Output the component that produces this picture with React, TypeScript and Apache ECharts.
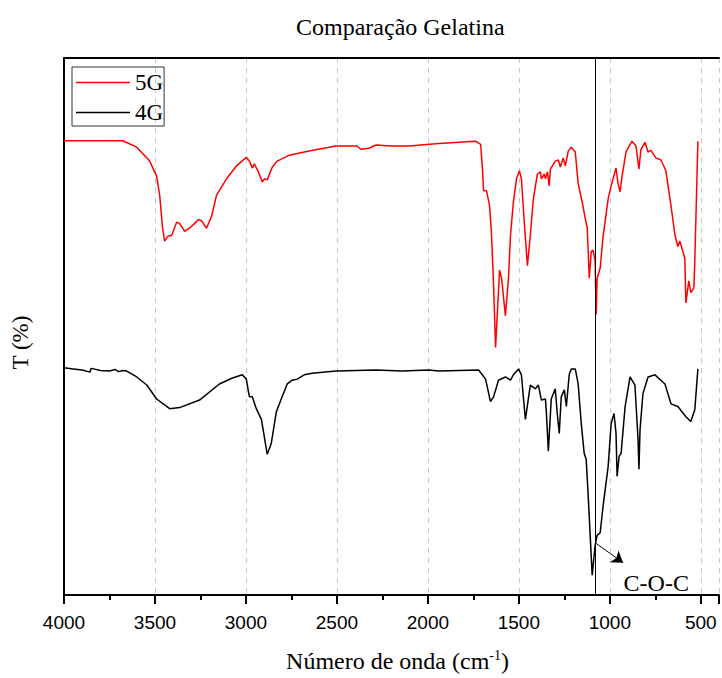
import React, { useEffect, useRef } from "react";
import * as echarts from "echarts";

const TITLE = "Comparação Gelatina";
const X_NAME = "Número de onda (cm{sup|-1})";
const Y_NAME = "T (%)";
const SERIES_NAMES = ["5G", "4G"];
const X_MIN = 400;
const X_MAX = 4000;
const MARK_WAVENUMBER = 1081;
const ARROW_FROM: [number, number] = [1075, 9.6];
const ARROW_TO: [number, number] = [927, 6.0];
const ANNOTATION = "C-O-C";
const ANNOTATION_AT: [number, number] = [745, 2.3];

const gel5G: [number, number][] = [
  [4000, 84.6], [3677, 84.6], [3600, 83.4], [3529, 80.8], [3491, 78.0], [3474, 74.4],
  [3458, 68.3], [3447, 65.9], [3430, 66.8], [3408, 67.0], [3381, 69.4], [3365, 69.2],
  [3337, 67.7], [3310, 68.3], [3282, 69.2], [3261, 69.9], [3244, 69.7], [3217, 68.3],
  [3189, 70.5], [3162, 74.4], [3107, 77.5], [3052, 79.9], [2998, 81.5], [2981, 80.8],
  [2965, 79.5], [2954, 80.3], [2932, 78.8], [2910, 76.9], [2899, 77.5], [2883, 77.3],
  [2855, 79.7], [2828, 80.8], [2762, 81.9], [2653, 82.7], [2505, 83.6], [2390, 83.6],
  [2368, 83.0], [2324, 83.2], [2286, 83.8], [2198, 83.6], [2105, 83.6], [1941, 84.1],
  [1738, 84.5], [1710, 83.9], [1700, 79.3], [1694, 75.3], [1678, 75.3], [1661, 72.5],
  [1650, 67.0], [1639, 57.7], [1628, 46.1], [1606, 60.5], [1595, 59.0], [1574, 52.0],
  [1557, 59.0], [1546, 67.0], [1530, 73.2], [1513, 77.5], [1497, 79.0], [1486, 77.5],
  [1469, 68.8], [1453, 61.3], [1437, 67.0], [1420, 73.8], [1398, 78.4], [1382, 78.8],
  [1376, 77.5], [1360, 78.4], [1354, 77.5], [1343, 78.8], [1333, 76.2], [1327, 79.3],
  [1300, 80.8], [1283, 81.0], [1272, 79.7], [1256, 81.4], [1245, 79.9], [1228, 82.7],
  [1212, 83.4], [1190, 82.5], [1174, 76.6], [1152, 73.2], [1135, 70.1], [1124, 68.3],
  [1113, 59.0], [1102, 64.0], [1092, 64.2], [1081, 62.2], [1075, 52.2], [1070, 59.0],
  [1053, 60.9], [1037, 66.8], [1009, 73.8], [993, 76.2], [966, 79.5], [955, 76.6],
  [944, 75.1], [933, 77.9], [911, 82.5], [878, 84.5], [856, 83.6], [840, 79.3],
  [829, 83.0], [807, 84.3], [790, 82.5], [774, 82.8], [747, 81.4], [719, 81.0],
  [692, 79.0], [664, 72.5], [642, 67.0], [626, 64.9], [615, 65.9], [599, 64.0],
  [588, 62.7], [582, 54.4], [566, 58.5], [555, 56.3], [538, 57.2], [533, 62.2],
  [516, 84.5],
];

const gel4G: [number, number][] = [
  [4000, 42.3], [3950, 42.1], [3900, 41.9], [3858, 41.5], [3850, 42.2], [3800, 41.8],
  [3750, 41.7], [3720, 42.0], [3700, 41.6], [3677, 41.8], [3655, 41.7], [3600, 40.6],
  [3545, 39.1], [3491, 36.5], [3419, 34.7], [3365, 34.9], [3255, 36.3], [3146, 39.3],
  [3074, 40.4], [3020, 41.0], [2998, 40.2], [2981, 36.9], [2965, 36.9], [2943, 34.7],
  [2915, 32.7], [2883, 26.2], [2861, 28.2], [2833, 34.1], [2806, 36.5], [2773, 39.3],
  [2746, 40.0], [2718, 40.2], [2680, 41.0], [2636, 41.3], [2505, 41.7], [2286, 41.9],
  [2143, 41.7], [1995, 41.9], [1941, 41.7], [1721, 41.9], [1683, 40.2], [1656, 36.0],
  [1639, 36.9], [1612, 40.0], [1574, 40.6], [1546, 40.0], [1530, 41.0], [1502, 42.1],
  [1486, 41.0], [1469, 34.5], [1464, 32.7], [1437, 39.1], [1409, 38.4], [1393, 39.1],
  [1376, 36.3], [1354, 36.5], [1349, 34.1], [1338, 26.8], [1322, 36.5], [1300, 38.4],
  [1289, 33.8], [1278, 30.1], [1267, 36.9], [1250, 38.2], [1239, 35.1], [1223, 41.1],
  [1212, 42.1], [1190, 42.1], [1174, 39.3], [1157, 31.9], [1141, 26.4], [1130, 25.3],
  [1119, 18.5], [1097, 3.7], [1081, 9.2], [1070, 11.1], [1053, 11.6], [1037, 16.6],
  [1009, 24.0], [993, 31.9], [977, 33.8], [966, 30.1], [960, 22.1], [949, 25.8],
  [938, 26.4], [916, 35.1], [889, 40.6], [862, 39.1], [845, 29.0], [840, 23.4],
  [834, 30.8], [818, 37.5], [790, 40.6], [752, 41.0], [697, 39.3], [664, 35.6],
  [626, 35.1], [582, 33.2], [555, 32.3], [533, 34.5], [516, 42.1],
];

const SERIF = "'Liberation Serif', 'Times New Roman', serif";
const SANS = "'Liberation Sans', Arial, sans-serif";

export default function App() {
  const ref = useRef<HTMLDivElement>(null);
  useEffect(() => {
    if (!ref.current) return;
    const chart = echarts.init(ref.current, undefined, { renderer: "svg" });
    chart.setOption({
      animation: false,
      backgroundColor: "#fff",
      title: {
        text: TITLE,
        left: 291,
        top: 10,
        textStyle: { fontFamily: SERIF, fontSize: 24, fontWeight: "normal", color: "#000" },
      },
      legend: {
        orient: "vertical",
        left: 72,
        top: 67,
        data: SERIES_NAMES,
        icon: "rect",
        itemWidth: 54,
        itemHeight: 1.5,
        itemGap: 7,
        padding: [4, 1, 2, 4],
        borderColor: "#333",
        borderWidth: 1,
        textStyle: { fontFamily: SERIF, fontSize: 23, color: "#000", lineHeight: 23 },
      },
      grid: { left: 64, right: 1, top: 58, bottom: 78 },
      xAxis: [
        {
          type: "value",
          min: X_MIN,
          max: X_MAX,
          inverse: true,
          splitNumber: 7,
          position: "bottom",
          name: X_NAME,
          nameLocation: "middle",
          nameGap: 53,
          nameTextStyle: {
            fontFamily: SERIF,
            fontSize: 24,
            color: "#000",
            padding: [0, 0, 0, 12],
            rich: { sup: { fontFamily: SERIF, fontSize: 14, verticalAlign: "top", padding: [0, 0, 12, 0], color: "#000" } },
          },
          axisLine: { show: true, lineStyle: { color: "#000", width: 2 } },
          axisTick: { show: true, inside: false, length: 9, lineStyle: { color: "#000", width: 2 } },
          minorTick: { show: true, splitNumber: 2, length: 5, lineStyle: { color: "#000", width: 2 } },
          axisLabel: {
            margin: 18,
            fontFamily: SANS,
            fontSize: 19,
            color: "#000",
            formatter: (v: number) => (v % 500 === 0 ? String(v) : ""),
          },
          splitLine: { show: true, lineStyle: { color: "#c8c8c8", type: [5, 5], width: 1 } },
        },
        {
          type: "value",
          min: X_MIN,
          max: X_MAX,
          inverse: true,
          position: "top",
          axisLine: { show: true, lineStyle: { color: "#000", width: 2 } },
          axisTick: { show: false },
          axisLabel: { show: false },
          splitLine: { show: false },
        },
      ],
      yAxis: {
        type: "value",
        min: 0,
        max: 100,
        name: Y_NAME,
        nameLocation: "middle",
        nameGap: 32,
        nameRotate: 90,
        nameTextStyle: { fontFamily: SERIF, fontSize: 23, color: "#000", padding: [0, 32, 0, 0] },
        axisLine: { show: true, lineStyle: { color: "#000", width: 2 } },
        axisTick: { show: false },
        axisLabel: { show: false },
        splitLine: { show: false },
      },
      series: [
        {
          name: SERIES_NAMES[0],
          type: "line",
          data: gel5G,
          symbol: "none",
          lineStyle: { color: "#ff0000", width: 1.5 },
          itemStyle: { color: "#ff0000" },
          markLine: {
            silent: true,
            symbol: "none",
            label: { show: false },
            lineStyle: { color: "#000", width: 1, type: "solid" },
            data: [{ xAxis: MARK_WAVENUMBER }],
          },
        },
        {
          name: SERIES_NAMES[1],
          type: "line",
          data: gel4G,
          symbol: "none",
          lineStyle: { color: "#000", width: 1.5 },
          itemStyle: { color: "#000" },
          markLine: {
            silent: true,
            symbol: ["none", "arrow"],
            symbolSize: 11,
            label: { show: false },
            lineStyle: { color: "#000", width: 1, type: "solid" },
            data: [[{ coord: ARROW_FROM }, { coord: ARROW_TO }]],
          },
          markPoint: {
            silent: true,
            symbol: "circle",
            symbolSize: 0,
            data: [
              {
                coord: ANNOTATION_AT,
                label: {
                  show: true,
                  formatter: ANNOTATION,
                  position: "inside",
                  fontFamily: SERIF,
                  fontSize: 24,
                  color: "#000",
                },
              },
            ],
          },
        },
      ],
    });
    return () => chart.dispose();
  }, []);
  return <div ref={ref} style={{ width: 722, height: 678, position: "absolute", left: 0, top: 0 }} />;
}
